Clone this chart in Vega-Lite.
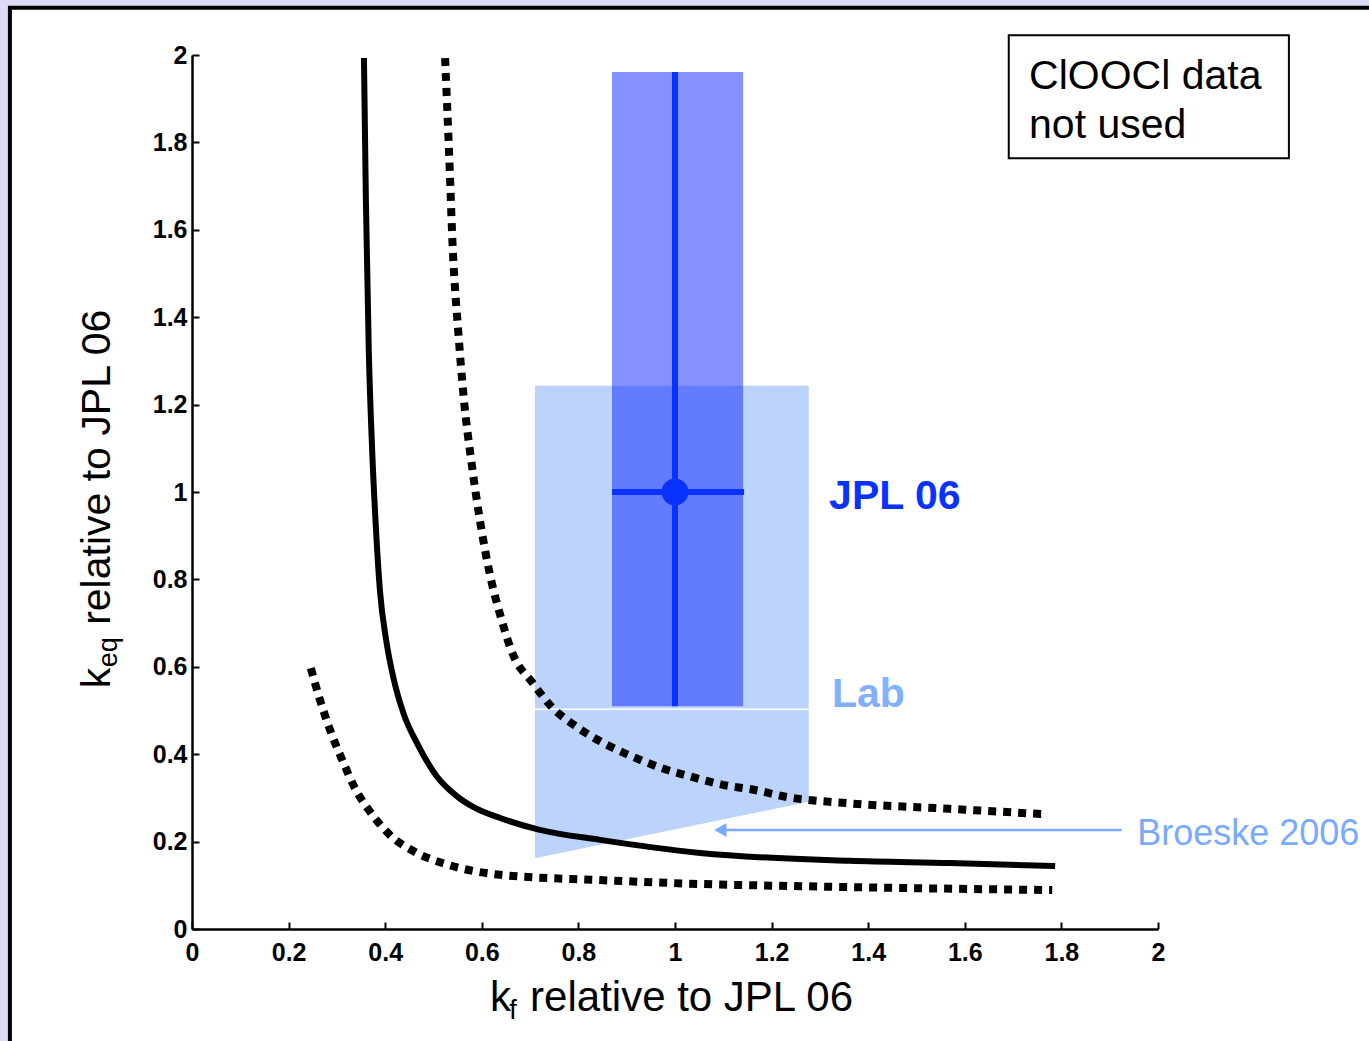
{
  "$schema": "https://vega.github.io/schema/vega-lite/v6.json",
  "width": 966,
  "height": 874,
  "autosize": {"type": "none"},
  "padding": {"left": 192, "top": 55, "right": 211, "bottom": 112},
  "background": "#dcdcf7",
  "config": {"view": {"stroke": null}, "font": "Liberation Sans"},
  "datasets": {
    "one": [{}],
    "curves": [
      {"series": "mid", "kf": 0.356, "keq": 1.993},
      {"series": "mid", "kf": 0.360, "keq": 1.668},
      {"series": "mid", "kf": 0.366, "keq": 1.325},
      {"series": "mid", "kf": 0.373, "keq": 1.096},
      {"series": "mid", "kf": 0.381, "keq": 0.913},
      {"series": "mid", "kf": 0.389, "keq": 0.776},
      {"series": "mid", "kf": 0.402, "keq": 0.661},
      {"series": "mid", "kf": 0.418, "keq": 0.570},
      {"series": "mid", "kf": 0.439, "keq": 0.490},
      {"series": "mid", "kf": 0.468, "keq": 0.421},
      {"series": "mid", "kf": 0.505, "keq": 0.352},
      {"series": "mid", "kf": 0.545, "keq": 0.307},
      {"series": "mid", "kf": 0.586, "keq": 0.277},
      {"series": "mid", "kf": 0.638, "keq": 0.254},
      {"series": "mid", "kf": 0.720, "keq": 0.227},
      {"series": "mid", "kf": 0.845, "keq": 0.204},
      {"series": "mid", "kf": 1.052, "keq": 0.174},
      {"series": "mid", "kf": 1.362, "keq": 0.156},
      {"series": "mid", "kf": 1.569, "keq": 0.151},
      {"series": "mid", "kf": 1.787, "keq": 0.144},
      {"series": "upper", "kf": 0.524, "keq": 1.993},
      {"series": "upper", "kf": 0.532, "keq": 1.783},
      {"series": "upper", "kf": 0.540, "keq": 1.554},
      {"series": "upper", "kf": 0.551, "keq": 1.371},
      {"series": "upper", "kf": 0.563, "keq": 1.211},
      {"series": "upper", "kf": 0.578, "keq": 1.073},
      {"series": "upper", "kf": 0.596, "keq": 0.936},
      {"series": "upper", "kf": 0.617, "keq": 0.810},
      {"series": "upper", "kf": 0.638, "keq": 0.719},
      {"series": "upper", "kf": 0.665, "keq": 0.627},
      {"series": "upper", "kf": 0.704, "keq": 0.565},
      {"series": "upper", "kf": 0.745, "keq": 0.508},
      {"series": "upper", "kf": 0.797, "keq": 0.462},
      {"series": "upper", "kf": 0.851, "keq": 0.426},
      {"series": "upper", "kf": 0.913, "keq": 0.394},
      {"series": "upper", "kf": 0.973, "keq": 0.368},
      {"series": "upper", "kf": 1.035, "keq": 0.348},
      {"series": "upper", "kf": 1.099, "keq": 0.330},
      {"series": "upper", "kf": 1.166, "keq": 0.318},
      {"series": "upper", "kf": 1.232, "keq": 0.302},
      {"series": "upper", "kf": 1.356, "keq": 0.288},
      {"series": "upper", "kf": 1.569, "keq": 0.275},
      {"series": "upper", "kf": 1.760, "keq": 0.263},
      {"series": "lower", "kf": 0.246, "keq": 0.597},
      {"series": "lower", "kf": 0.265, "keq": 0.524},
      {"series": "lower", "kf": 0.286, "keq": 0.455},
      {"series": "lower", "kf": 0.311, "keq": 0.387},
      {"series": "lower", "kf": 0.337, "keq": 0.323},
      {"series": "lower", "kf": 0.369, "keq": 0.268},
      {"series": "lower", "kf": 0.410, "keq": 0.215},
      {"series": "lower", "kf": 0.462, "keq": 0.176},
      {"series": "lower", "kf": 0.524, "keq": 0.149},
      {"series": "lower", "kf": 0.638, "keq": 0.124},
      {"series": "lower", "kf": 0.845, "keq": 0.112},
      {"series": "lower", "kf": 1.052, "keq": 0.103},
      {"series": "lower", "kf": 1.259, "keq": 0.098},
      {"series": "lower", "kf": 1.466, "keq": 0.094},
      {"series": "lower", "kf": 1.781, "keq": 0.089}
    ],
    "lab": [
      {"kf": 0.710, "lo": 0.162, "hi": 0.501},
      {"kf": 1.277, "lo": 0.291, "hi": 0.501}
    ]
  },
  "layer": [
    {
      "data": {"name": "one"},
      "mark": {"type": "rect", "fill": "white", "stroke": "black", "strokeWidth": 4, "clip": false},
      "encoding": {
        "x": {"datum": -0.377, "type": "quantitative", "scale": {"domain": [0, 2], "nice": false}, "title": null,
          "axis": {"values": [0, 0.2, 0.4, 0.6, 0.8, 1, 1.2, 1.4, 1.6, 1.8, 2], "format": "~g", "grid": false, "zindex": 1,
            "domainColor": "black", "domainWidth": 2.5, "tickColor": "black", "tickWidth": 2, "tickSize": -7,
            "labelPadding": 18, "labelFont": "Liberation Sans", "labelFontWeight": "bold", "labelFontSize": 25,
            "labelColor": "black", "labelFlush": false, "labelOverlap": false, "title": null}},
        "x2": {"datum": 2.6},
        "y": {"datum": 2.108, "type": "quantitative", "scale": {"domain": [0, 2], "nice": false}, "title": null,
          "axis": {"values": [0, 0.2, 0.4, 0.6, 0.8, 1, 1.2, 1.4, 1.6, 1.8, 2], "format": "~g", "grid": false, "zindex": 1,
            "domainColor": "black", "domainWidth": 2.5, "tickColor": "black", "tickWidth": 2, "tickSize": -7,
            "labelPadding": 12, "labelFont": "Liberation Sans", "labelFontWeight": "bold", "labelFontSize": 25,
            "labelColor": "black", "labelFlush": false, "labelOverlap": false, "title": null}},
        "y2": {"datum": -0.4}
      }
    },
    {
      "data": {"name": "one"},
      "mark": {"type": "rect", "fill": "#bcd4fb"},
      "encoding": {
        "x": {"datum": 0.710, "type": "quantitative", "title": null},
        "x2": {"datum": 1.277},
        "y": {"datum": 0.5046, "type": "quantitative", "title": null},
        "y2": {"datum": 1.243}
      }
    },
    {
      "data": {"name": "lab"},
      "mark": {"type": "area", "fill": "#bcd4fb", "opacity": 1},
      "encoding": {
        "x": {"field": "kf", "type": "quantitative", "title": null},
        "y": {"field": "lo", "type": "quantitative", "title": null},
        "y2": {"field": "hi"}
      }
    },
    {
      "data": {"name": "one"},
      "mark": {"type": "rect", "fill": "#0a24ff", "opacity": 0.5},
      "encoding": {
        "x": {"datum": 0.8696, "type": "quantitative", "title": null},
        "x2": {"datum": 1.141},
        "y": {"datum": 0.510, "type": "quantitative", "title": null},
        "y2": {"datum": 1.961}
      }
    },
    {
      "data": {"name": "curves"},
      "transform": [{"filter": "datum.series === 'mid'"}],
      "mark": {"type": "line", "color": "black", "strokeWidth": 6, "interpolate": "monotone"},
      "encoding": {
        "x": {"field": "kf", "type": "quantitative", "title": null},
        "y": {"field": "keq", "type": "quantitative", "title": null}
      }
    },
    {
      "data": {"name": "curves"},
      "transform": [{"filter": "datum.series !== 'mid'"}],
      "mark": {"type": "line", "color": "black", "strokeWidth": 8, "strokeDash": [8, 7], "strokeCap": "butt", "interpolate": "monotone"},
      "encoding": {
        "x": {"field": "kf", "type": "quantitative", "title": null},
        "y": {"field": "keq", "type": "quantitative", "title": null},
        "detail": {"field": "series"}
      }
    },
    {
      "data": {"name": "one"},
      "mark": {"type": "rule", "color": "#0a32ff", "strokeWidth": 6},
      "encoding": {
        "x": {"datum": 1, "type": "quantitative", "title": null},
        "y": {"datum": 0.510, "type": "quantitative", "title": null},
        "y2": {"datum": 1.961}
      }
    },
    {
      "data": {"name": "one"},
      "mark": {"type": "rule", "color": "#0a32ff", "strokeWidth": 6},
      "encoding": {
        "x": {"datum": 0.8696, "type": "quantitative", "title": null},
        "x2": {"datum": 1.143},
        "y": {"datum": 1, "type": "quantitative", "title": null}
      }
    },
    {
      "data": {"name": "one"},
      "mark": {"type": "point", "shape": "circle", "filled": true, "color": "#0a32ff", "opacity": 1, "size": 720},
      "encoding": {
        "x": {"datum": 1, "type": "quantitative", "title": null},
        "y": {"datum": 1, "type": "quantitative", "title": null}
      }
    },
    {
      "data": {"name": "one"},
      "mark": {"type": "rule", "color": "#7aaaff", "strokeWidth": 2.5, "clip": false},
      "encoding": {
        "x": {"datum": 1.09, "type": "quantitative", "title": null},
        "x2": {"datum": 1.925},
        "y": {"datum": 0.2265, "type": "quantitative", "title": null}
      }
    },
    {
      "data": {"name": "one"},
      "mark": {"type": "point", "shape": "triangle-left", "filled": true, "color": "#7aaaff", "opacity": 1, "size": 200},
      "encoding": {
        "x": {"datum": 1.094, "type": "quantitative", "title": null},
        "y": {"datum": 0.2265, "type": "quantitative", "title": null}
      }
    },
    {
      "data": {"name": "one"},
      "mark": {"type": "text", "text": "JPL 06", "font": "Liberation Sans", "fontWeight": "bold", "fontSize": 41, "color": "#0a32ff", "align": "left", "baseline": "alphabetic"},
      "encoding": {
        "x": {"datum": 1.319, "type": "quantitative", "title": null},
        "y": {"datum": 0.962, "type": "quantitative", "title": null}
      }
    },
    {
      "data": {"name": "one"},
      "mark": {"type": "text", "text": "Lab", "font": "Liberation Sans", "fontWeight": "bold", "fontSize": 41, "color": "#80b0ff", "align": "left", "baseline": "alphabetic"},
      "encoding": {
        "x": {"datum": 1.325, "type": "quantitative", "title": null},
        "y": {"datum": 0.508, "type": "quantitative", "title": null}
      }
    },
    {
      "data": {"name": "one"},
      "mark": {"type": "text", "text": "Broeske 2006", "font": "Liberation Sans", "fontSize": 36, "color": "#7aaaff", "align": "left", "baseline": "alphabetic", "clip": false},
      "encoding": {
        "x": {"datum": 1.957, "type": "quantitative", "title": null},
        "y": {"datum": 0.192, "type": "quantitative", "title": null}
      }
    },
    {
      "data": {"name": "one"},
      "mark": {"type": "rect", "fill": "white", "stroke": "black", "strokeWidth": 2, "clip": false},
      "encoding": {
        "x": {"datum": 1.691, "type": "quantitative", "title": null},
        "x2": {"datum": 2.271},
        "y": {"datum": 2.045, "type": "quantitative", "title": null},
        "y2": {"datum": 1.764}
      }
    },
    {
      "data": {"name": "one"},
      "mark": {"type": "text", "text": "ClOOCl data", "font": "Liberation Sans", "fontSize": 41, "color": "black", "align": "left", "baseline": "alphabetic", "clip": false},
      "encoding": {
        "x": {"datum": 1.733, "type": "quantitative", "title": null},
        "y": {"datum": 1.922, "type": "quantitative", "title": null}
      }
    },
    {
      "data": {"name": "one"},
      "mark": {"type": "text", "text": "not used", "font": "Liberation Sans", "fontSize": 41, "color": "black", "align": "left", "baseline": "alphabetic", "clip": false},
      "encoding": {
        "x": {"datum": 1.733, "type": "quantitative", "title": null},
        "y": {"datum": 1.810, "type": "quantitative", "title": null}
      }
    },
    {
      "data": {"name": "one"},
      "mark": {"type": "text", "text": "k", "font": "Liberation Sans", "fontSize": 42, "color": "black", "align": "left", "baseline": "alphabetic", "clip": false},
      "encoding": {
        "x": {"datum": 0.617, "type": "quantitative", "title": null},
        "y": {"datum": -0.188, "type": "quantitative", "title": null}
      }
    },
    {
      "data": {"name": "one"},
      "mark": {"type": "text", "text": "f", "font": "Liberation Sans", "fontSize": 27, "color": "black", "align": "left", "baseline": "alphabetic", "clip": false},
      "encoding": {
        "x": {"datum": 0.657, "type": "quantitative", "title": null},
        "y": {"datum": -0.206, "type": "quantitative", "title": null}
      }
    },
    {
      "data": {"name": "one"},
      "mark": {"type": "text", "text": "relative to JPL 06", "font": "Liberation Sans", "fontSize": 42, "color": "black", "align": "left", "baseline": "alphabetic", "clip": false},
      "encoding": {
        "x": {"datum": 0.700, "type": "quantitative", "title": null},
        "y": {"datum": -0.188, "type": "quantitative", "title": null}
      }
    },
    {
      "data": {"name": "one"},
      "mark": {"type": "text", "text": "k", "font": "Liberation Sans", "fontSize": 41, "color": "black", "align": "left", "baseline": "alphabetic", "angle": 270, "clip": false},
      "encoding": {
        "x": {"datum": -0.170, "type": "quantitative", "title": null},
        "y": {"datum": 0.551, "type": "quantitative", "title": null}
      }
    },
    {
      "data": {"name": "one"},
      "mark": {"type": "text", "text": "eq", "font": "Liberation Sans", "fontSize": 27, "color": "black", "align": "left", "baseline": "alphabetic", "angle": 270, "clip": false},
      "encoding": {
        "x": {"datum": -0.155, "type": "quantitative", "title": null},
        "y": {"datum": 0.599, "type": "quantitative", "title": null}
      }
    },
    {
      "data": {"name": "one"},
      "mark": {"type": "text", "text": "relative to JPL 06", "font": "Liberation Sans", "fontSize": 41, "color": "black", "align": "left", "baseline": "alphabetic", "angle": 270, "clip": false},
      "encoding": {
        "x": {"datum": -0.170, "type": "quantitative", "title": null},
        "y": {"datum": 0.696, "type": "quantitative", "title": null}
      }
    }
  ]
}
